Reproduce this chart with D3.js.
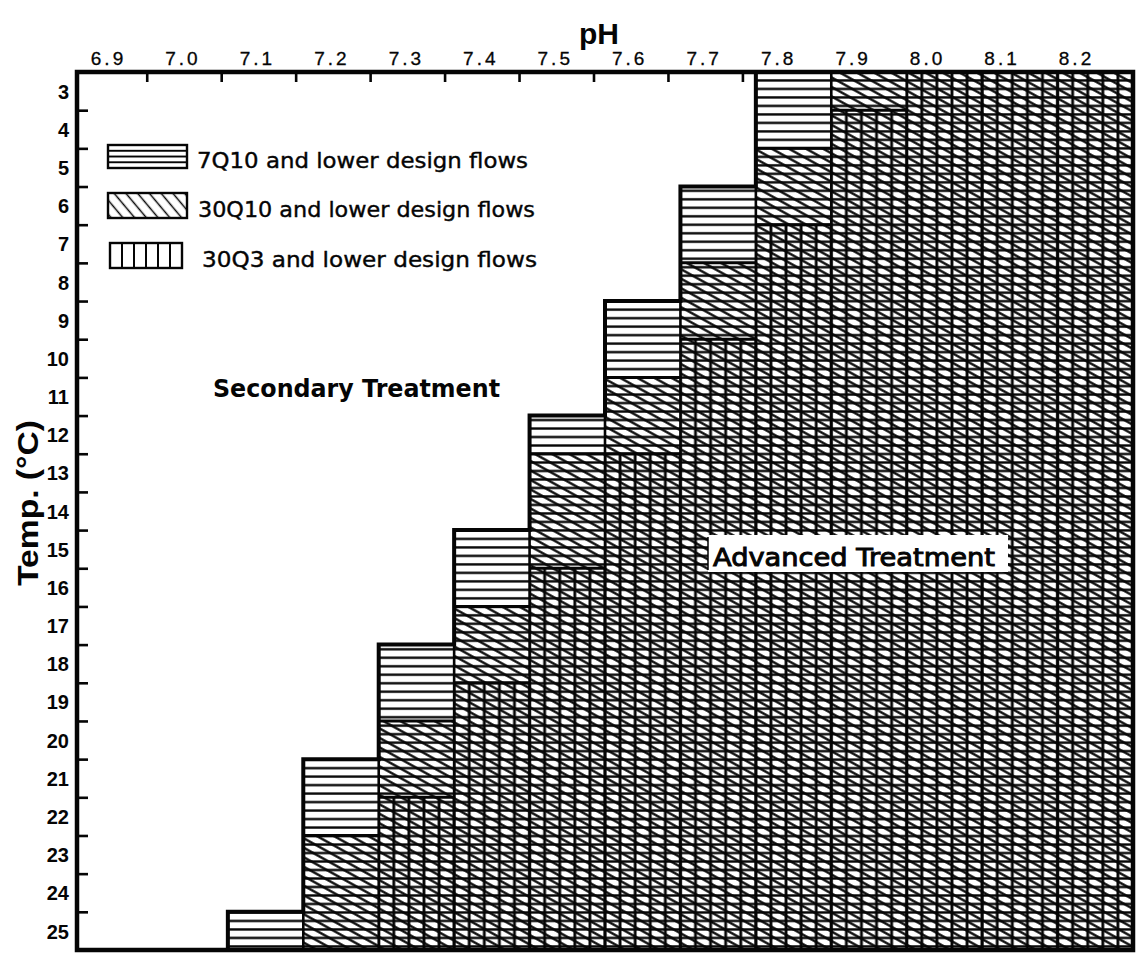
<!DOCTYPE html>
<html><head><meta charset="utf-8">
<script src="https://cdn.jsdelivr.net/npm/d3@7"></script>
<style>body{margin:0;background:#fff}</style>
</head><body>
<svg id="c" width="1144" height="955"></svg>
<script>
// ---- data ----
const phLabels = ["6.9","7.0","7.1","7.2","7.3","7.4","7.5","7.6","7.7","7.8","7.9","8.0","8.1","8.2"];
const phValues = [6.9,7.0,7.1,7.2,7.3,7.4,7.5,7.6,7.7,7.8,7.9,8.0,8.1,8.2];
const tempLabels = [3,4,5,6,7,8,9,10,11,12,13,14,15,16,17,18,19,20,21,22,23,24,25];
// lowest temperature (°C) from which advanced treatment is required, per pH column
const q7_10  = [null,null,25,21,18,15,12, 9, 6,3,3,3,3,3];
const q30_10 = [null,null,null,23,20,17,13,11,8,5,3,3,3,3];
const q30_3  = [null,null,null,null,22,19,16,13,10,7,4,3,3,3];
const legendLabels = ["7Q10 and lower design flows","30Q10 and lower design flows","30Q3 and lower design flows"];
const zoneLabels = ["Secondary Treatment","Advanced Treatment"];

// ---- scales ----
const L = 77, R = 1133, T = 72, B = 950;
const x = d3.scaleBand().domain(phLabels).range([L, R]).padding(0);
const y = d3.scaleLinear().domain([2.5, 25.5]).range([T, B]);
const xLab = d3.scaleLinear().domain([6.9, 8.2]).range([110, 1078]);
const bw = x.bandwidth();

const svg = d3.select("#c");
const defs = svg.append("defs");
const INK = "#050505";

function linePattern(id, spacing, angle, sw, xOff, yOff) {
  const p = defs.append("pattern").attr("id", id)
    .attr("patternUnits", "userSpaceOnUse")
    .attr("width", 40).attr("height", spacing)
    .attr("patternTransform", `translate(${xOff},${yOff}) rotate(${angle})`);
  p.append("line").attr("x1", -5).attr("x2", 45)
    .attr("y1", spacing / 2).attr("y2", spacing / 2)
    .attr("stroke", INK).attr("stroke-width", sw);
}
linePattern("patH", 8.49, 0, 2.5, 0, T + 4.2);
linePattern("patD", 8.3, 29, 2.4, L, T);
linePattern("patV", bw / 5, 90, 2.8, L + bw / 10, 0);
linePattern("legH", 5.75, 0, 1.7, 0, 145 + 2.9);
linePattern("legD", 9, 50, 1.7, 108, 193);
linePattern("legV", 12, 90, 1.8, 116, 0);

// ---- axis ticks (drawn under the hatching) ----
const tickVals = d3.range(13).map(i => +(6.95 + i * 0.1).toFixed(2));
svg.append("g").selectAll("line").data(tickVals).join("line")
  .attr("x1", d => xLab(d)).attr("x2", d => xLab(d))
  .attr("y1", T).attr("y2", T + 10)
  .attr("stroke", INK).attr("stroke-width", 2.6);

const yTicks = tempLabels.slice(0, -1).map(t => t + 0.5);
svg.append("g").attr("transform", `translate(${L},0)`)
  .call(d3.axisLeft(y).tickValues(yTicks).tickSize(-11).tickFormat(""))
  .call(g => g.select(".domain").remove())
  .call(g => g.selectAll("line").attr("stroke", INK).attr("stroke-width", 2.6));

// ---- regions ----
const cols = phLabels.map((p, i) => ({p, a: q7_10[i], b: q30_10[i], c: q30_3[i]}));
const layers = [["a", "patH"], ["b", "patD"], ["c", "patV"]];

svg.append("g").selectAll("rect").data(cols.filter(d => d.a != null)).join("rect")
  .attr("x", d => x(d.p)).attr("y", d => y(d.a - 0.5))
  .attr("width", bw).attr("height", d => B - y(d.a - 0.5))
  .attr("fill", "#fff");

layers.forEach(([k, pat]) => {
  svg.append("g").selectAll("rect").data(cols.filter(d => d[k] != null)).join("rect")
    .attr("x", d => x(d.p)).attr("y", d => y(d[k] - 0.5))
    .attr("width", bw).attr("height", d => B - y(d[k] - 0.5))
    .attr("fill", `url(#${pat})`);
});

// column separators
svg.append("g").selectAll("line").data(cols.filter(d => d.a != null)).join("line")
  .attr("x1", d => x(d.p)).attr("x2", d => x(d.p))
  .attr("y1", d => y(d.a - 0.5)).attr("y2", B)
  .attr("stroke", INK).attr("stroke-width", 2.6);

// boundary lines of each flow zone inside columns
[["b", 3], ["c", 3]].forEach(([k, sw]) => {
  svg.append("g").selectAll("line").data(cols.filter(d => d[k] != null && d[k] > 3)).join("line")
    .attr("x1", d => x(d.p)).attr("x2", d => x(d.p) + bw)
    .attr("y1", d => y(d[k] - 0.5)).attr("y2", d => y(d[k] - 0.5))
    .attr("stroke", INK).attr("stroke-width", sw);
});

// staircase outline of the 7Q10 zone
const stair = cols.filter(d => d.a != null);
let pth = `M${x(stair[0].p)},${B}`;
stair.forEach(d => { pth += `V${y(d.a - 0.5)}H${x(d.p) + bw}`; });
svg.append("path").attr("d", pth).attr("fill", "none")
  .attr("stroke", INK).attr("stroke-width", 4).attr("stroke-linejoin", "miter");

// frame
svg.append("rect").attr("x", L).attr("y", T).attr("width", R - L).attr("height", B - T)
  .attr("fill", "none").attr("stroke", INK).attr("stroke-width", 4.5);

// ---- axis labels ----
svg.append("g").selectAll("text").data(phValues).join("text")
  .attr("x", d => xLab(d) - 1.5).attr("y", 65)
  .attr("text-anchor", "middle")
  .attr("font-family", "Liberation Sans, Arial, sans-serif")
  .attr("font-size", 19).attr("letter-spacing", 3).attr("fill", INK)
  .attr("stroke", INK).attr("stroke-width", 0.3)
  .text((d, i) => phLabels[i]);

svg.append("g").selectAll("text").data(tempLabels).join("text")
  .attr("x", 69).attr("y", d => y(d)).attr("dy", "0.38em")
  .attr("text-anchor", "end")
  .attr("font-family", "Liberation Sans, Arial, sans-serif")
  .attr("font-weight", "bold").attr("font-size", 20).attr("fill", INK)
  .text(d => d);

svg.append("text").attr("x", 599).attr("y", 44).attr("text-anchor", "middle")
  .attr("font-family", "Liberation Sans, Arial, sans-serif")
  .attr("font-weight", "bold").attr("font-size", 30).attr("fill", INK).text("pH");

svg.append("text").attr("transform", "translate(38,503) rotate(-90)")
  .attr("text-anchor", "middle")
  .attr("font-family", "Liberation Sans, Arial, sans-serif")
  .attr("font-weight", "bold").attr("font-size", 30).attr("fill", INK)
  .attr("textLength", 166).attr("lengthAdjust", "spacingAndGlyphs")
  .text("Temp. (°C)");

// ---- legend ----
const legBoxes = [
  {x: 108, y: 145, w: 79, h: 23, pat: "legH", tx: 197, ty: 168, tl: 331},
  {x: 108, y: 193, w: 79, h: 25, pat: "legD", tx: 198, ty: 217, tl: 337},
  {x: 110, y: 243, w: 72, h: 25, pat: "legV", tx: 202, ty: 267, tl: 335}
];
const lg = svg.append("g").selectAll("g").data(legBoxes).join("g");
lg.append("rect").attr("x", d => d.x).attr("y", d => d.y).attr("width", d => d.w).attr("height", d => d.h)
  .attr("fill", d => `url(#${d.pat})`).attr("stroke", INK).attr("stroke-width", 2.4);
lg.append("text").attr("x", d => d.tx).attr("y", d => d.ty)
  .attr("font-family", "DejaVu Sans, sans-serif").attr("font-size", 22).attr("fill", INK)
  .attr("stroke", INK).attr("stroke-width", 0.4)
  .attr("textLength", d => d.tl).attr("lengthAdjust", "spacingAndGlyphs")
  .text((d, i) => legendLabels[i]);

// ---- zone labels ----
svg.append("text").attr("x", 213).attr("y", 397)
  .attr("font-family", "DejaVu Sans, sans-serif").attr("font-weight", "bold")
  .attr("font-size", 24).attr("fill", INK)
  .attr("textLength", 287).attr("lengthAdjust", "spacingAndGlyphs")
  .text(zoneLabels[0]);

svg.append("rect").attr("x", 708).attr("y", 535).attr("width", 300).attr("height", 37).attr("fill", "#fff");
svg.append("line").attr("x1", 708).attr("x2", 708).attr("y1", 537).attr("y2", 570)
  .attr("stroke", INK).attr("stroke-width", 1.5);
svg.append("text").attr("x", 713).attr("y", 566)
  .attr("font-family", "DejaVu Sans, sans-serif").attr("font-size", 25).attr("fill", INK)
  .attr("stroke", INK).attr("stroke-width", 1)
  .attr("textLength", 282).attr("lengthAdjust", "spacingAndGlyphs")
  .text(zoneLabels[1]);
</script>
</body></html>
